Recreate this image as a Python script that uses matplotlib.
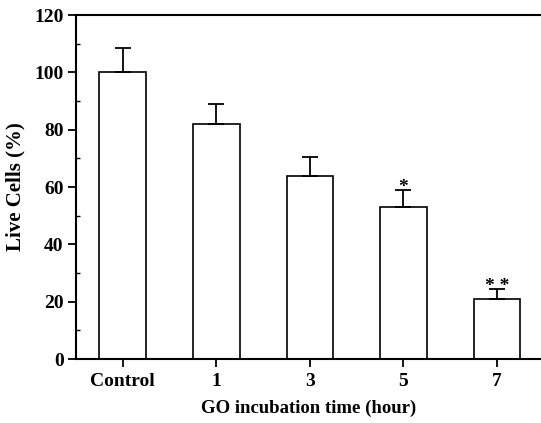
import matplotlib
matplotlib.use("Agg")
import matplotlib.pyplot as plt
from matplotlib.ticker import MultipleLocator

# values
groups = ["Control", "1", "3", "5", "7"]
live_cells = [100, 82, 64, 53, 21]
errors = [8.5, 7, 6.5, 6, 3.5]
marks = ["", "", "", "*", "* *"]

plt.rcParams["font.family"] = ["Liberation Serif", "DejaVu Serif"]
plt.rcParams["font.weight"] = "bold"

fig = plt.figure(figsize=(5.41, 4.23), dpi=100)
ax = fig.add_axes([0.1405, 0.1513, 0.8595, 0.8132])

x = list(range(len(groups)))
ax.bar(x, live_cells, width=0.5, color="white", edgecolor="black", linewidth=1.2, zorder=2)
ax.errorbar(x, live_cells, yerr=[[0] * len(errors), errors], fmt="none",
            ecolor="black", elinewidth=1.3, capsize=6, capthick=1.3, zorder=3)

for xi, val, err, m in zip(x, live_cells, errors, marks):
    if m:
        ax.text(xi, val + err - 2.3, m, ha="center", va="bottom", fontsize=14, fontweight="bold")

ax.set_xlim(-0.5, 4.47)
ax.set_ylim(0, 120)
ax.set_xticks(x)
ax.set_xticklabels(groups)
ax.yaxis.set_major_locator(MultipleLocator(20))
ax.yaxis.set_minor_locator(MultipleLocator(10))

ax.spines["right"].set_visible(False)
for side in ["left", "bottom", "top"]:
    ax.spines[side].set_linewidth(1.5)

ax.tick_params(axis="both", which="major", direction="out", length=6, width=1.3, labelsize=14)
ax.tick_params(axis="y", which="minor", direction="in", length=3, width=1)
ax.tick_params(axis="x", pad=4)
ax.tick_params(axis="y", pad=3)

ax.set_ylabel("Live Cells (%)", fontsize=15, fontweight="bold", labelpad=6)
ax.set_xlabel("GO incubation time (hour)", fontsize=13.5, fontweight="bold", labelpad=7)

fig.savefig("out.png", dpi=100)
